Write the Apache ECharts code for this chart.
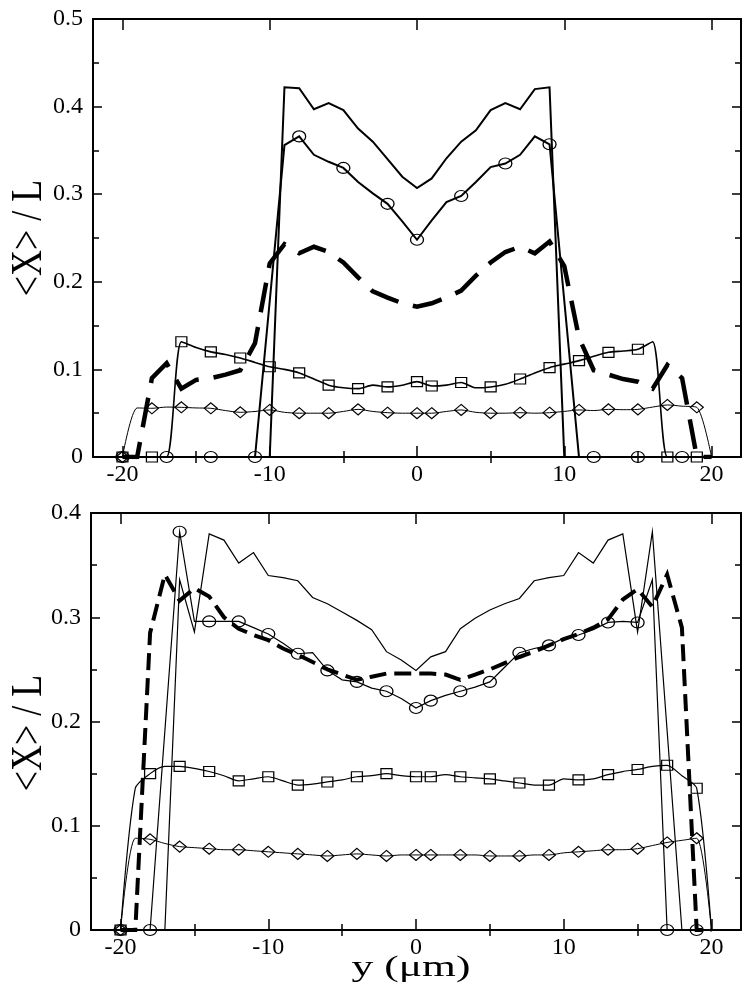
<!DOCTYPE html>
<html><head><meta charset="utf-8">
<script src="https://cdn.jsdelivr.net/npm/echarts@6/dist/echarts.min.js"></script>
<style>html,body{margin:0;padding:0;background:#fff}#c{width:750px;height:999px}</style>
</head><body><div id="c"></div>
<script>
// y positions (µm), index 0 = -20 ... index 40 = 20
const xs = [-20,-19,-18,-17,-16,-15,-14,-13,-12,-11,-10,-9,-8,-7,-6,-5,-4,-3,-2,-1,0,1,2,3,4,5,6,7,8,9,10,11,12,13,14,15,16,17,18,19,20];
const xMajorTicks = [-20,-10,0,10,20];
const xMinorTicks = [-15,-5,5,15];

// ---- top panel ----
const topPlain = [null,null,null,null,null,null,null,null,null,null,
  0,0.422,0.421,0.397,0.404,0.396,0.375,0.360,0.340,0.320,0.307,0.318,0.341,0.360,0.373,0.396,0.404,0.397,0.420,0.422,0,
  null,null,null,null,null,null,null,null,null,null];
const topCircle = [0,0,0,0,0,0,0,0,0,0,
  null,0.356,0.366,0.345,0.337,0.330,0.314,0.301,0.289,0.269,0.248,0.270,0.291,0.298,0.314,0.331,0.335,0.345,0.366,0.357,null,
  0,0,0,0,0,0,0,0,0,0];
const topDashed = [0,0,0.090,0.107,0.078,0.088,0.090,0.094,0.099,0.130,0.221,0.243,0.2325,0.240,0.234,0.222,0.205,0.189,0.182,0.1755,0.1716,
  0.1755,0.182,0.190,0.207,0.222,0.234,0.240,0.2325,0.246,0.218,0.136,0.099,0.094,0.089,0.086,0.078,0.105,0.090,0,0];
const topSquare = [0,0,0,0,0.1316,0.125,0.120,0.117,0.113,0.108,0.103,0.100,0.096,0.089,0.082,0.079,0.078,0.082,0.080,0.082,0.086,
  0.081,0.082,0.085,0.079,0.080,0.083,0.089,0.096,0.102,0.106,0.110,0.115,0.1195,0.121,0.123,0.1316,0,0,0,0];
const topDiamond = [0,0.056,0.0556,0.057,0.0567,0.056,0.0556,0.053,0.051,0.052,0.0537,0.051,0.050,0.050,0.050,0.052,0.0544,0.052,0.0506,0.050,0.050,
  0.050,0.052,0.0537,0.051,0.050,0.050,0.0506,0.050,0.0506,0.052,0.0537,0.053,0.0544,0.054,0.0544,0.057,0.0594,0.058,0.0567,0];
const topCircleMarks = [-20,-17,-14,-11,-8,-5,-2,0,3,6,9,12,15,18];
const topSqMarks = [-20,-18,-16,-14,-12,-10,-8,-6,-4,-2,0,1,3,5,7,9,11,13,15,17,19];

// ---- bottom panel ----
const botPlain = [null,null,null,
  0,0.336,0.286,0.380,0.374,0.352,0.362,0.340,0.338,0.335,0.319,0.313,0.305,0.297,0.288,0.267,0.259,0.249,
  0.262,0.267,0.289,0.299,0.307,0.313,0.318,0.335,0.338,0.340,0.362,0.352,0.374,0.380,0.286,0.382,null,0,null,null];
const botCircle = [0,0,0,null,0.382,0.296,0.296,0.296,0.296,0.290,0.284,0.275,0.265,0.266,0.249,0.240,0.238,0.232,0.229,0.222,0.213,
  0.220,0.225,0.229,0.233,0.238,0.252,0.266,0.270,0.273,0.280,0.283,0.288,0.295,0.296,0.295,0.336,0,0,0,0];
const botDashed = [0,0,0.285,0.341,0.316,0.328,0.320,0.300,0.289,0.283,0.278,0.270,0.264,0.257,0.250,0.245,0.240,0.243,0.246,0.246,0.246,
  0.246,0.245,0.240,0.245,0.250,0.256,0.262,0.267,0.273,0.279,0.284,0.290,0.298,0.317,0.327,0.310,0.341,0.290,0,0];
const botSquare = [0,0.136,0.150,0.157,0.157,0.155,0.152,0.148,0.143,0.145,0.147,0.143,0.139,0.140,0.142,0.144,0.147,0.148,0.150,0.148,0.147,
  0.147,0.149,0.147,0.146,0.145,0.143,0.141,0.139,0.139,0.145,0.144,0.145,0.149,0.152,0.154,0.157,0.158,0.148,0.136,0];
const botDiamond = [0,0.088,0.087,0.083,0.080,0.079,0.078,0.077,0.077,0.076,0.075,0.074,0.073,0.072,0.071,0.072,0.073,0.072,0.071,0.072,0.072,
  0.072,0.072,0.072,0.072,0.071,0.071,0.071,0.072,0.072,0.074,0.075,0.076,0.077,0.077,0.078,0.081,0.084,0.086,0.088,0];
const botMarks = [-20,-18,-16,-14,-12,-10,-8,-6,-4,-2,0,1,3,5,7,9,11,13,15,17,19];

const FONT = '"Liberation Serif", "Times New Roman", Times, serif';

function mkSeries(g, ys, marks, sym, size, lw, dash, smooth) {
  const data = [];
  xs.forEach((x, i) => {
    if (ys[i] === null) return;
    data.push({ value: [x, ys[i]], symbol: (marks && marks.includes(x)) ? sym : 'none' });
  });
  return {
    type: 'line', xAxisIndex: g * 4, yAxisIndex: g * 2, data,
    symbol: sym || 'none', symbolSize: size, showAllSymbol: true,
    smooth: smooth || false,
    lineStyle: { color: '#000', width: lw, type: dash || 'solid', cap: 'butt', join: 'miter' },
    itemStyle: { color: 'rgba(0,0,0,0)', borderColor: '#000', borderWidth: 1.2 },
    emphasis: { disabled: true }, z: 3
  };
}

function xAxes(g) {
  const base = { gridIndex: g, type: 'value', min: -22, max: 22, splitLine: { show: false } };
  const tick = (vals, len) => ({ show: true, inside: true, length: len, customValues: vals, lineStyle: { color: '#000', width: 1.5 } });
  return [
    Object.assign({}, base, { position: 'bottom', axisLine: { show: true, onZero: false, lineStyle: { color: '#000', width: 2 } },
      axisTick: tick(xMajorTicks, 11),
      axisLabel: { show: true, customValues: xMajorTicks, color: '#000', fontFamily: FONT, fontSize: 24, margin: 6 } }),
    Object.assign({}, base, { position: 'bottom', axisLine: { show: false }, axisTick: tick(xMinorTicks, 6), axisLabel: { show: false } }),
    Object.assign({}, base, { position: 'top', axisLine: { show: true, onZero: false, lineStyle: { color: '#000', width: 2 } },
      axisTick: tick(xMajorTicks, 11), axisLabel: { show: false } }),
    Object.assign({}, base, { position: 'top', axisLine: { show: false }, axisTick: tick(xMinorTicks, 6), axisLabel: { show: false } })
  ];
}
function yAxes(g, ymax) {
  const base = { gridIndex: g, type: 'value', min: 0, max: ymax, interval: 0.1, splitLine: { show: false },
    axisLine: { show: true, onZero: false, lineStyle: { color: '#000', width: 2 } },
    axisTick: { show: true, inside: true, length: 9, lineStyle: { color: '#000', width: 1.5 } },
    minorTick: { show: true, splitNumber: 2, length: 6, lineStyle: { color: '#000', width: 1.5 } },
    minorSplitLine: { show: false } };
  return [
    Object.assign({}, base, { position: 'left', axisLabel: { show: true, color: '#000', fontFamily: FONT, fontSize: 24, margin: 10 } }),
    Object.assign({}, base, { position: 'right', axisLabel: { show: false } })
  ];
}

const chart = echarts.init(document.getElementById('c'), null, { renderer: 'canvas' });
chart.setOption({
  animation: false,
  backgroundColor: '#fff',
  grid: [
    { left: 93, right: 9, top: 19, height: 438 },
    { left: 91, right: 9, top: 513, height: 417 }
  ],
  xAxis: xAxes(0).concat(xAxes(1)),
  yAxis: yAxes(0, 0.5).concat(yAxes(1, 0.4)),
  graphic: [
    { type: 'text', x: 29, y: 238, rotation: Math.PI / 2, scaleY: 1.25,
      style: { text: '<X> / L', font: '36px ' + FONT, fill: '#000', align: 'center', verticalAlign: 'middle' } },
    { type: 'text', x: 29, y: 733, rotation: Math.PI / 2, scaleY: 1.25,
      style: { text: '<X> / L', font: '36px ' + FONT, fill: '#000', align: 'center', verticalAlign: 'middle' } },
    { type: 'text', x: 411, y: 968, scaleX: 1.45,
      style: { text: 'y (μm)', font: '30px ' + FONT, fill: '#000', align: 'center', verticalAlign: 'middle' } }
  ],
  series: [
    mkSeries(0, topPlain, null, 'none', 0, 2, 'solid'),
    mkSeries(0, topCircle, topCircleMarks, 'circle', [13, 11], 2, 'solid'),
    mkSeries(0, topDashed, null, 'none', 0, 4.5, [30, 15]),
    mkSeries(0, topSquare, topSqMarks, 'rect', [11, 10], 1.6, 'solid', 0.25),
    mkSeries(0, topDiamond, topSqMarks, 'diamond', [13, 11], 1, 'solid', 0.25),
    mkSeries(1, botPlain, null, 'none', 0, 1.2, 'solid'),
    mkSeries(1, botCircle, botMarks, 'circle', [13, 11], 1.2, 'solid'),
    mkSeries(1, botDashed, null, 'none', 0, 4, [17, 8]),
    mkSeries(1, botSquare, botMarks, 'rect', [11, 10], 1.2, 'solid', 0.25),
    mkSeries(1, botDiamond, botMarks, 'diamond', [13, 11], 1, 'solid', 0.25)
  ]
});
</script></body></html>
